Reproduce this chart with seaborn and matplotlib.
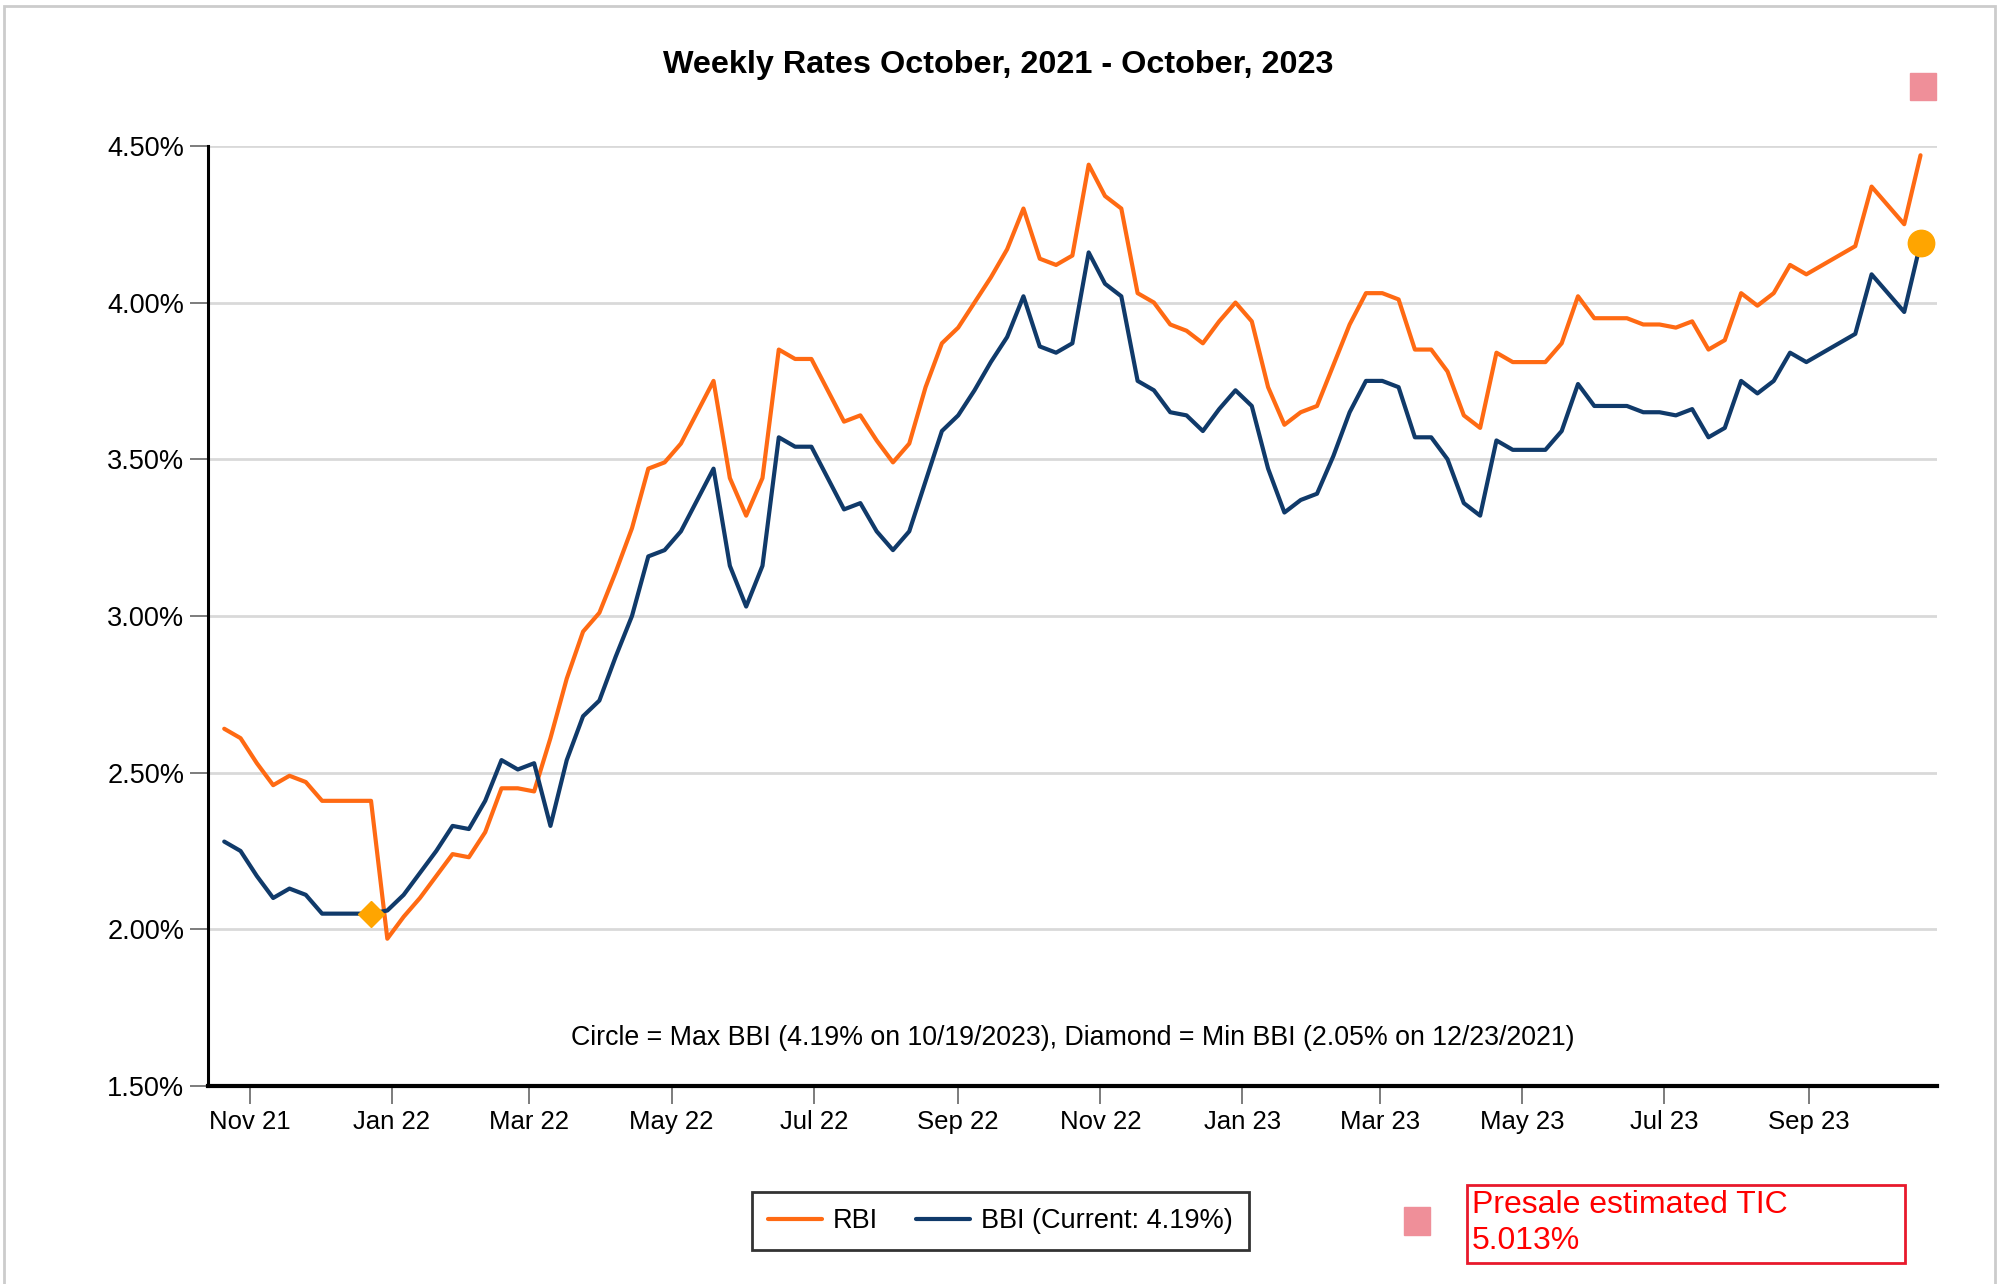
import matplotlib.pyplot as plt
import matplotlib.dates as mdates
import matplotlib.patches as mpatches
import pandas as pd
import seaborn as sns

# ------------------------------------------------------------
# data: weekly rates (Thursdays), 10/21/2021 - 10/19/2023
# ------------------------------------------------------------
start_date = "2021-10-21"

rbi = [2.64, 2.61, 2.53, 2.46, 2.49, 2.47, 2.41, 2.41, 2.41, 2.41,
       1.97, 2.04, 2.10, 2.17, 2.24, 2.23, 2.31, 2.45, 2.45, 2.44,
       2.61, 2.80, 2.95, 3.01, 3.14, 3.28, 3.47, 3.49, 3.55, 3.65,
       3.75, 3.44, 3.32, 3.44, 3.85, 3.82, 3.82, 3.72, 3.62, 3.64,
       3.56, 3.49, 3.55, 3.73, 3.87, 3.92, 4.00, 4.08, 4.17, 4.30,
       4.14, 4.12, 4.15, 4.44, 4.34, 4.30, 4.03, 4.00, 3.93, 3.91,
       3.87, 3.94, 4.00, 3.94, 3.73, 3.61, 3.65, 3.67, 3.80, 3.93,
       4.03, 4.03, 4.01, 3.85, 3.85, 3.78, 3.64, 3.60, 3.84, 3.81,
       3.81, 3.81, 3.87, 4.02, 3.95, 3.95, 3.95, 3.93, 3.93, 3.92,
       3.94, 3.85, 3.88, 4.03, 3.99, 4.03, 4.12, 4.09, 4.12, 4.15,
       4.18, 4.37, 4.31, 4.25, 4.47]

bbi = [2.28, 2.25, 2.17, 2.10, 2.13, 2.11, 2.05, 2.05, 2.05, 2.05,
       2.06, 2.11, 2.18, 2.25, 2.33, 2.32, 2.41, 2.54, 2.51, 2.53,
       2.33, 2.54, 2.68, 2.73, 2.87, 3.00, 3.19, 3.21, 3.27, 3.37,
       3.47, 3.16, 3.03, 3.16, 3.57, 3.54, 3.54, 3.44, 3.34, 3.36,
       3.27, 3.21, 3.27, 3.43, 3.59, 3.64, 3.72, 3.81, 3.89, 4.02,
       3.86, 3.84, 3.87, 4.16, 4.06, 4.02, 3.75, 3.72, 3.65, 3.64,
       3.59, 3.66, 3.72, 3.67, 3.47, 3.33, 3.37, 3.39, 3.51, 3.65,
       3.75, 3.75, 3.73, 3.57, 3.57, 3.50, 3.36, 3.32, 3.56, 3.53,
       3.53, 3.53, 3.59, 3.74, 3.67, 3.67, 3.67, 3.65, 3.65, 3.64,
       3.66, 3.57, 3.60, 3.75, 3.71, 3.75, 3.84, 3.81, 3.84, 3.87,
       3.90, 4.09, 4.03, 3.97, 4.19]

series_names = ["RBI", "BBI (Current: 4.19%)"]
y_ticks = [1.5, 2.0, 2.5, 3.0, 3.5, 4.0, 4.5]

title = "Weekly Rates October, 2021 - October, 2023"
note = "Circle = Max BBI (4.19% on 10/19/2023), Diamond = Min BBI (2.05% on 12/23/2021)"
tic_text = "Presale estimated TIC\n5.013%"

# colours
c_rbi = "#FF6A13"
c_bbi = "#103A6A"
c_marker = "#FFA500"
c_pink = "#EF8F99"
c_red = "#FF0000"

# ------------------------------------------------------------
dates = pd.date_range(start_date, periods=len(rbi), freq="7D")
df = pd.DataFrame({"date": dates, series_names[0]: rbi, series_names[1]: bbi})
long_df = df.melt(id_vars="date", var_name="series", value_name="rate")

sns.set_style("white")
plt.rcParams["font.family"] = ["Liberation Sans", "DejaVu Sans"]
plt.rcParams["text.color"] = "black"
plt.rcParams["xtick.labelcolor"] = "black"
plt.rcParams["ytick.labelcolor"] = "black"

fig = plt.figure(figsize=(20.05, 12.84), dpi=100)
ax = fig.add_axes([0.1037, 0.1542, 0.8623, 0.7322])

sns.lineplot(
    data=long_df, x="date", y="rate", hue="series",
    palette=[c_rbi, c_bbi], linewidth=3.0, legend=False, ax=ax,
)

# max / min BBI markers
b = df[series_names[1]]
i_max = b.idxmax()
i_min = b[b == b.min()].index[-1]
ax.plot(dates[i_max], b[i_max], "o", color=c_marker, ms=19, zorder=5, clip_on=False)
ax.plot(dates[i_min], b[i_min], "D", color=c_marker, ms=13, zorder=5)

# axes styling
ax.set_xlim(dates[0] - pd.Timedelta(days=7), dates[-1] + pd.Timedelta(days=7))
ax.set_ylim(1.5, 4.5)
ax.set_yticks(y_ticks)
ax.set_yticklabels([f"{t:.2f}%" for t in y_ticks])
ax.xaxis.set_major_locator(mdates.MonthLocator(bymonth=[1, 3, 5, 7, 9, 11]))
ax.xaxis.set_major_formatter(mdates.DateFormatter("%b %y"))
ax.set_xlabel("")
ax.set_ylabel("")

ax.yaxis.grid(True, color="#D9D9D9", linewidth=2)
ax.xaxis.grid(False)
for side in ["top", "right"]:
    ax.spines[side].set_visible(False)
ax.spines["left"].set_linewidth(2.2)
ax.spines["bottom"].set_linewidth(3)
ax.spines["left"].set_color("black")
ax.spines["bottom"].set_color("black")
ax.tick_params(axis="both", direction="out", length=13, width=1.2,
               color="#666666", labelsize=18.5, pad=4, left=True, bottom=True)
ax.tick_params(axis="y", labelsize=19.5)

ax.text(0.5, 0.051, note, transform=ax.transAxes, ha="center", va="center",
        fontsize=19.3)

fig.text(0.498, 0.949, title, ha="center", va="center", fontsize=23.3,
         fontweight="bold")

# legend below
leg = fig.legend(ax.lines[:2], series_names, loc="center", ncol=2,
                 bbox_to_anchor=(0.499, 0.049), fontsize=19.5, frameon=True,
                 fancybox=False, handlelength=2.0, handletextpad=0.4,
                 columnspacing=1.4, borderpad=0.6)
leg.get_frame().set_edgecolor("black")
leg.get_frame().set_linewidth(2)

# presale TIC box
fig.patches.append(mpatches.Rectangle(
    (1467 / 2005, 1 - 1263 / 1284), 438 / 2005, 78 / 1284,
    transform=fig.transFigure, fill=False, edgecolor="#E8192C", linewidth=2))
fig.text(1472 / 2005, 1 - 1223 / 1284, tic_text, ha="left", va="center",
         fontsize=23, color=c_red, linespacing=1.3)

# pink squares
fig.patches.append(mpatches.Rectangle(
    (1404 / 2005, 1 - 1235 / 1284), 26 / 2005, 28 / 1284,
    transform=fig.transFigure, color=c_pink))
fig.patches.append(mpatches.Rectangle(
    (1910 / 2005, 1 - 100 / 1284), 26 / 2005, 27 / 1284,
    transform=fig.transFigure, color=c_pink))

# thin outer frame
fig.patches.append(mpatches.Rectangle(
    (0.002, -0.01), 0.993, 1.0053, transform=fig.transFigure,
    fill=False, edgecolor="#CCCCCC", linewidth=2))

fig.savefig("out.png", dpi=100)
